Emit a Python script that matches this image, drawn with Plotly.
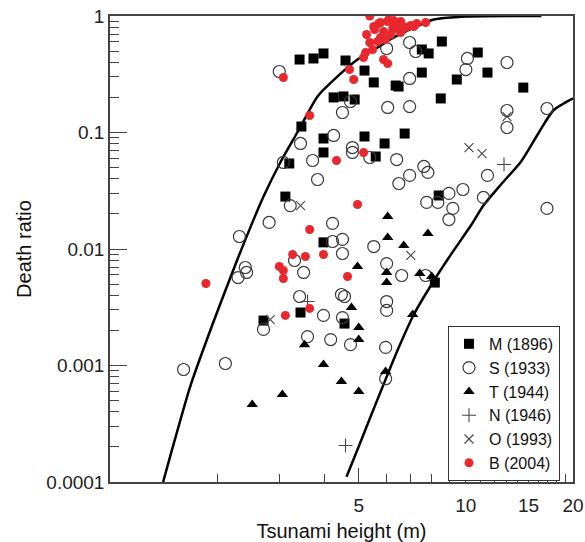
import plotly.graph_objects as go

# ---- data ----
m_x = [3.41, 3.73, 3.98, 4.59, 5.19, 5.51, 6.35, 6.47, 4.25, 4.53, 4.87, 3.45, 3.98, 3.98, 3.19, 5.19, 5.91,
       6.73, 5.58, 3.11, 8.39, 3.98, 7.52, 7.86, 8.56, 7.52, 9.43, 8.50, 10.8, 11.5, 14.5, 2.70, 3.43, 4.56, 8.18]
m_y = [0.423, 0.432, 0.477, 0.415, 0.340, 0.269, 0.253, 0.248, 0.200, 0.204, 0.192, 0.1125, 0.0888, 0.0674,
       0.0542, 0.0924, 0.0805, 0.098, 0.0622, 0.0282, 0.0288, 0.0114, 0.516, 0.477, 0.604, 0.327, 0.285, 0.196,
       0.486, 0.327, 0.243, 0.00243, 0.00285, 0.00229, 0.00515]

s_x = [2.99, 6.95, 5.99, 7.23, 10.1, 10.0, 13.05, 6.95, 6.03, 6.95, 4.74, 4.50, 13.05, 13.05, 16.9, 3.43, 4.25,
       4.80, 4.80, 5.37, 3.71, 6.39, 3.83, 6.48, 6.95, 7.62, 7.82, 9.81, 11.5, 11.2, 8.96, 7.76, 8.34, 9.19, 8.96,
       16.9, 3.21, 3.07, 2.80, 2.31, 4.22, 4.22, 4.50, 4.50, 5.51, 5.99, 2.40, 2.42, 2.29, 3.30, 3.50, 3.41, 3.98,
       2.70, 3.59, 4.17, 1.61, 2.11, 6.60, 7.71, 4.47, 4.56, 5.99, 5.99, 4.50, 4.74, 5.95, 5.95]
s_y = [0.334, 0.592, 0.526, 0.496, 0.432, 0.347, 0.399, 0.291, 0.164, 0.167, 0.1845, 0.1485, 0.1545, 0.1104,
       0.1607, 0.0805, 0.0943, 0.0743, 0.0674, 0.061, 0.0575, 0.0586, 0.0395, 0.0365, 0.0428, 0.0511, 0.0454,
       0.0324, 0.0428, 0.0277, 0.030, 0.0251, 0.0251, 0.0223, 0.0179, 0.0223, 0.0236, 0.0553, 0.0169, 0.0128,
       0.0166, 0.0116, 0.0121, 0.00915, 0.0105, 0.0075, 0.00694, 0.00629, 0.00569, 0.00797, 0.00629, 0.00391,
       0.00269, 0.00204, 0.00177, 0.00167, 0.000924, 0.00104, 0.00592, 0.00592, 0.00407, 0.00391, 0.00354,
       0.00297, 0.00258, 0.00151, 0.00143, 0.00077]

t_x = [6.03, 6.03, 6.69, 7.82, 4.96, 5.99, 5.99, 7.42, 8.02, 4.77, 5.00, 5.00, 3.52, 3.98, 4.47, 5.00, 7.09,
       5.95, 3.05, 2.51]
t_y = [0.0190, 0.01255, 0.0107, 0.0136, 0.00708, 0.00629, 0.00516, 0.00616, 0.00581, 0.00315, 0.00212, 0.00167,
       0.00151, 0.00102, 0.00073, 0.000598, 0.00274, 0.000888, 0.000564, 0.000463]

n_x = [4.59, 3.59, 12.8]
n_y = [0.000206, 0.00354, 0.0531]

o_x = [10.2, 11.1, 3.43, 2.82, 7.0, 13.05]
o_y = [0.0743, 0.0660, 0.0236, 0.00248, 0.0088, 0.137]

b_x = [5.37, 7.71, 5.26, 5.37, 5.51, 5.69, 5.76, 5.87, 6.03, 6.07, 6.23, 6.35, 6.44, 6.56, 6.65, 6.78, 7.0, 7.14,
       7.28, 5.76, 5.95, 5.65, 5.47, 5.23, 5.16, 5.87, 6.03, 4.71, 4.84, 3.07, 3.64, 4.33, 5.16, 4.96, 3.64, 3.26,
       3.54, 3.98, 2.99, 3.07, 3.07, 1.86, 3.11, 3.64, 4.65, 5.54, 6.15, 6.27, 6.56]
b_y = [1.0, 0.88, 0.694, 0.592, 0.813, 0.862, 0.88, 0.736, 0.897, 0.933, 0.781, 0.845, 0.766, 0.722, 0.813,
       0.797, 0.829, 0.813, 0.862, 0.654, 0.629, 0.604, 0.516, 0.486, 0.440, 0.423, 0.391, 0.347, 0.285, 0.2966,
       0.140, 0.0575, 0.0674, 0.0241, 0.0147, 0.00897, 0.00862, 0.00897, 0.00708, 0.00654, 0.00558, 0.00506,
       0.00269, 0.00309, 0.00581, 0.766, 0.694, 0.915, 0.897]

upper_x = [1.41, 1.476, 1.68, 1.95, 2.28, 2.70, 3.01, 3.36, 3.83, 4.36, 4.96, 5.65, 6.27, 7.47, 8.13, 10.1, 16.3]
upper_y = [0.0001, 0.000166, 0.00066, 0.00234, 0.00813, 0.0282, 0.0553, 0.1, 0.204, 0.303, 0.423, 0.537,
           0.654, 0.845, 0.933, 0.99, 1.0]

lower_x = [4.62, 5.0, 5.40, 5.87, 6.44, 7.14, 8.07, 8.96, 10.33, 11.2, 12.55, 14.3, 16.1, 17.6, 20.0]
lower_y = [0.000111, 0.000202, 0.000365, 0.000687, 0.00137, 0.00274, 0.00516, 0.00845, 0.0159, 0.0236,
           0.0358, 0.0564, 0.102, 0.1545, 0.196]

x_ticks = [5, 10, 15, 20]
x_ticktext = ["5", "10", "15", "20"]
x_minor = [2, 3, 4, 6, 7, 8, 9, 11, 12, 13, 14, 16, 17, 18, 19]
y_ticks = [0.0001, 0.001, 0.01, 0.1, 1]
y_ticktext = ["0.0001", "0.001", "0.01", "0.1", "1"]
y_minor = [m * 10 ** e for e in range(-4, 0) for m in range(2, 10)]

FONT = "Liberation Sans, Arial, sans-serif"
AX = "#444444"

fig = go.Figure()
for cx, cy in [(upper_x, upper_y), (lower_x, lower_y)]:
    fig.add_trace(go.Scatter(x=cx, y=cy, mode="lines", showlegend=False, hoverinfo="skip",
                             line=dict(color="black", width=2.5, shape="spline", smoothing=0.6)))

fig.add_trace(go.Scatter(x=m_x, y=m_y, mode="markers", name="M (1896)",
                         marker=dict(symbol="square", size=10, color="black")))
fig.add_trace(go.Scatter(x=s_x, y=s_y, mode="markers", name="S (1933)",
                         marker=dict(symbol="circle-open", size=12, color="#3a3a3a", line=dict(width=1.2))))
fig.add_trace(go.Scatter(x=t_x, y=t_y, mode="markers", name="T (1944)",
                         marker=dict(symbol="triangle-up", size=10, color="black")))
fig.add_trace(go.Scatter(x=n_x, y=n_y, mode="markers", name="N (1946)",
                         marker=dict(symbol="cross-thin", size=10, color="#444",
                                     line=dict(width=1.1, color="#444"))))
fig.add_trace(go.Scatter(x=o_x, y=o_y, mode="markers", name="O (1993)",
                         marker=dict(symbol="x-thin", size=9, color="#444",
                                     line=dict(width=1.1, color="#444"))))
fig.add_trace(go.Scatter(x=b_x, y=b_y, mode="markers", name="B (2004)",
                         marker=dict(symbol="circle", size=9, color="#e8282c")))

fig.update_layout(
    width=585, height=542,
    margin=dict(l=110, r=12, t=16, b=60),
    paper_bgcolor="white", plot_bgcolor="white",
    font=dict(family=FONT, color="#222222"),
    legend=dict(x=0.73, y=0.335, xanchor="left", yanchor="top",
                bordercolor="#333333", borderwidth=1, bgcolor="white",
                font=dict(size=16, family=FONT, color="#111"),
                tracegroupgap=0, itemwidth=30),
    xaxis=dict(type="log", range=[0, 1.30103], showgrid=False, zeroline=False, automargin=False,
               showline=True, linecolor=AX, linewidth=1.5, mirror=True,
               tickmode="array", tickvals=x_ticks, ticktext=x_ticktext,
               ticks="inside", ticklen=14, tickwidth=1.3, tickcolor=AX,
               ticklabeloverflow="allow", ticklabelstandoff=5,
               tickfont=dict(size=19, family=FONT, color="#222"),
               minor=dict(tickmode="array", tickvals=x_minor, ticks="inside", ticklen=8,
                          tickwidth=1.3, tickcolor=AX, showgrid=False),
               title=dict(text="Tsunami height (m)", font=dict(size=20, family=FONT, color="#111"),
                          standoff=11)),
    yaxis=dict(type="log", range=[-4, 0], showgrid=False, zeroline=False, automargin=False,
               showline=True, linecolor=AX, linewidth=1.5, mirror=True,
               tickmode="array", tickvals=y_ticks, ticktext=y_ticktext,
               ticks="inside", ticklen=17, tickwidth=1.3, tickcolor=AX,
               ticklabeloverflow="allow",
               tickfont=dict(size=19, family=FONT, color="#222"),
               minor=dict(tickmode="array", tickvals=y_minor, ticks="inside", ticklen=9,
                          tickwidth=1.3, tickcolor=AX, showgrid=False),
               title=dict(text="Death ratio", font=dict(size=20, family=FONT, color="#111"),
                          standoff=9)),
)

fig.write_html("out.html", config={"displayModeBar": False},
               post_script="document.body.style.margin='0';")
